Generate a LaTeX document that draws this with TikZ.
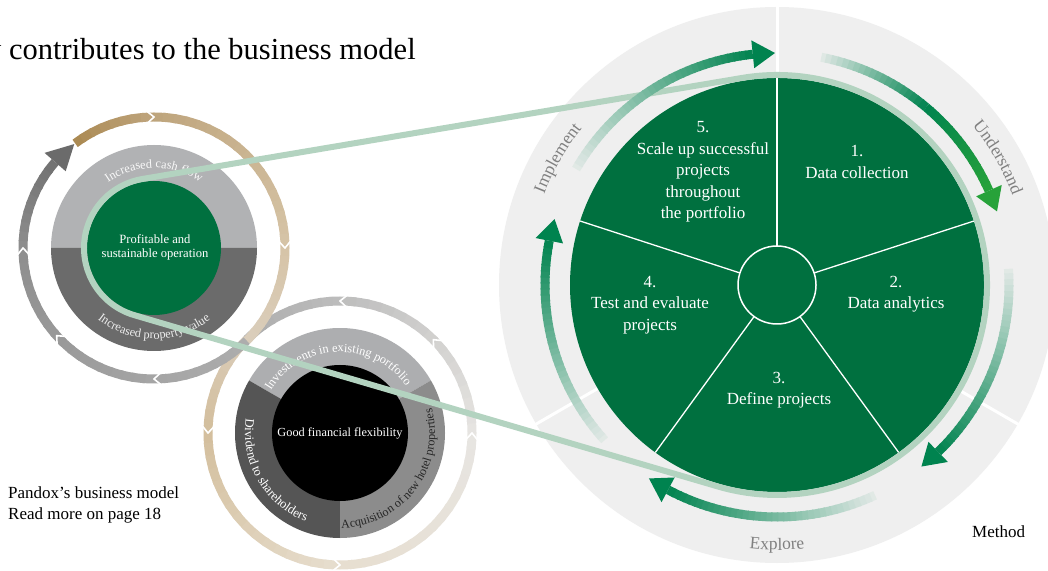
\documentclass[tikz,border=0pt]{standalone}
\usepackage{fontspec}
\setmainfont{Liberation Serif}
\usetikzlibrary{decorations.text,calc}

\definecolor{bggray}{HTML}{EFEFEF}
\definecolor{dgreen}{HTML}{00703F}
\definecolor{agreen}{HTML}{00834F}
\definecolor{bgreen}{HTML}{27A23A}
\definecolor{beltc}{HTML}{B3D3C0}
\definecolor{lgray}{HTML}{B1B2B4}
\definecolor{mgray}{HTML}{6B6B6B}
\definecolor{mlight}{HTML}{ADAEB0}
\definecolor{mdark}{HTML}{555555}
\definecolor{mmid}{HTML}{8C8C8C}
\definecolor{gold1}{HTML}{AA8850}
\definecolor{gold2}{HTML}{BEA47C}
\definecolor{tan1}{HTML}{D6C4A7}
\definecolor{tan2}{HTML}{DACDBB}
\definecolor{tan3}{HTML}{D3BE9C}
\definecolor{cream}{HTML}{E7DECF}
\definecolor{pale}{HTML}{E7E5E2}
\definecolor{gA}{HTML}{BDBDBD}
\definecolor{gB}{HTML}{ADADAD}
\definecolor{gC}{HTML}{A5A5A5}
\definecolor{gD}{HTML}{8E8E8E}
\definecolor{gE}{HTML}{727272}
\definecolor{headgray}{HTML}{6B6B6B}
\definecolor{labgray}{HTML}{808080}
\colorlet{afade}{agreen!5!bggray}

% #1 radius, #2 width, #3 start angle, #4 end angle, #5 start colour, #6 end colour, #7 steps
\newcommand{\gradarc}[7]{%
  \foreach \gi in {1,...,#7}{%
    \pgfmathsetmacro{\gsa}{#3+(#4-#3)*max(\gi-1.25,0)/#7}%
    \pgfmathsetmacro{\gea}{#3+(#4-#3)*\gi/#7}%
    \pgfmathtruncatemacro{\gpc}{100*(\gi-0.5)/#7}%
    \draw[line width=#2pt, color=#6!\gpc!#5] (\gsa:#1pt) arc[start angle=\gsa, end angle=\gea, radius=#1pt];%
  }}

\begin{document}
\begin{tikzpicture}[x=1pt,y=1pt,
  lbl/.style={text=white, align=center, font=\fontsize{17}{21.5}\selectfont, inner sep=0pt},
  plaintext/.style={text=black, anchor=base west, inner sep=0pt, font=\fontsize{17}{20}\selectfont},
  chev/.style={white, line width=1.6pt}]
\useasboundingbox (0,0) rectangle (1048,570);
\fill[white] (0,0) rectangle (1048,570);

\coordinate (B) at (777,285);
\coordinate (L) at (154,322);
\coordinate (M) at (340,137);

% ---------------- big method circle
\begin{scope}[shift={(B)}]
  \fill[bggray] (0,0) circle (278pt);
  \foreach \a in {90,-30,210} \draw[white, line width=3pt] (\a:205pt) -- (\a:282pt);
  \fill[dgreen] (0,0) circle (207pt);
  \foreach \a in {90,18,-54,-126,162} \draw[white, line width=1.3pt] (\a:39pt) -- (\a:207pt);
  \draw[white, line width=1.5pt] (0,0) circle (39pt);
\end{scope}

\node[lbl] (t1) at (857,408) {1.\\Data collection};
\node[lbl] (t2) at (896,276) {2.\\Data analytics};
\node[lbl] (t3) at (779,180) {3.\\Define projects};
\node[lbl] (t4) at (650,265) {4.\\Test and evaluate\\projects};
\node[lbl] (t5) at (703,398) {5.\\Scale up successful\\projects\\throughout\\the portfolio};

% ---------------- middle circle
\begin{scope}[shift={(M)}]
  \gradarc{132}{9}{135}{180}{tan2}{tan3}{10}
  \gradarc{132}{9}{180}{270}{tan3}{cream}{16}
  \gradarc{132}{9}{270}{360}{cream}{pale}{16}
  \gradarc{132}{9}{360}{450}{pale}{gA}{16}
  \gradarc{132}{9}{450}{495}{gA}{gB}{10}
  \foreach \a in {90,45,0,-90,180}
    \draw[chev] ({\a-3}:138pt) -- (\a:132pt) -- ({\a-3}:126pt);
  \fill[mlight] (0,0) -- (30:105pt) arc[start angle=30, end angle=150, radius=105pt] -- cycle;
  \fill[mdark] (0,0) -- (150:105pt) arc[start angle=150, end angle=270, radius=105pt] -- cycle;
  \fill[mmid] (0,0) -- (270:105pt) arc[start angle=270, end angle=390, radius=105pt] -- cycle;
  \fill[black] (0,0) circle (68pt);
  \path[decorate, decoration={text along path, text align=center, text color=white,
     text={|\fontsize{12.3}{13}\selectfont|Investments in existing portfolio}}]
     (177:81pt) arc[start angle=177, end angle=7, radius=81pt];
  \path[decorate, decoration={text along path, text align=center, text color=white,
     text={|\fontsize{12.8}{13}\selectfont|Dividend to shareholders}}]
     (140:95pt) arc[start angle=140, end angle=280, radius=95pt];
  \path[decorate, decoration={text along path, text align=center, text color=black!85,
     text={|\fontsize{12.2}{13}\selectfont|Acquisition of new hotel properties}}]
     (-117:95pt) arc[start angle=-117, end angle=43, radius=95pt];
\end{scope}
\node[text=white, font=\fontsize{12.3}{14}\selectfont, inner sep=0pt] (gff) at (M) {Good financial flexibility};

% ---------------- left circle
\begin{scope}[shift={(L)}]
  \gradarc{131}{9}{127}{90}{gold1}{gold2}{8}
  \gradarc{131}{9}{90}{0}{gold2}{tan1}{18}
  \gradarc{131}{9}{0}{-45}{tan1}{tan2}{10}
  \gradarc{131}{9}{-45}{-90}{gB}{gC}{10}
  \gradarc{131}{9}{-90}{-180}{gC}{gD}{18}
  \gradarc{131}{9}{-180}{-221}{gD}{gE}{10}
  \fill[headgray] (139:117pt) -- (127.5:131pt) -- (139:145pt) -- cycle;
  \foreach \a in {90,0,-90,-138,180}
    \draw[chev] ({\a+3}:137pt) -- (\a:131pt) -- ({\a+3}:125pt);
  \fill[lgray] (103pt,0pt) arc[start angle=0, end angle=180, radius=103pt] -- cycle;
  \fill[mgray] (-103pt,0pt) arc[start angle=180, end angle=360, radius=103pt] -- cycle;
  \fill[dgreen] (0,0) circle (67pt);
  \path[decorate, decoration={text along path, text align=center, text color=white!92!lgray,
     text={|\fontsize{12.3}{13}\selectfont|Increased cash flow}}]
     (165:80pt) arc[start angle=165, end angle=15, radius=80pt];
  \path[decorate, decoration={text along path, text align=center, text color=white!88!mgray,
     text={|\fontsize{12.3}{13}\selectfont|Increased property value}}]
     (195:91pt) arc[start angle=195, end angle=345, radius=91pt];
\end{scope}
\node[text=white, align=center, font=\fontsize{12.6}{14}\selectfont, inner sep=0pt] (pso) at (155,323) {Profitable and\\sustainable operation};

% ---------------- belt connecting the circles
\coordinate (Lt) at ($(L)+(99.6:70pt)$);
\coordinate (Bt) at ($(B)+(99.6:210pt)$);
\coordinate (Lb) at ($(L)+(-106.4:70pt)$);
\coordinate (Bb) at ($(B)+(-106.4:210pt)$);
\draw[beltc, line width=6pt, line join=round]
  (Lt) -- (Bt) arc[start angle=99.6, end angle=-106.4, radius=210pt]
  -- (Lb) arc[start angle=253.6, end angle=99.6, radius=70pt] -- cycle;

% ---------------- green arrows around the method
\begin{scope}[shift={(B)}]
  \gradarc{232}{9}{150}{96}{afade}{agreen}{36}
  \fill[agreen] (96:218pt) -- (90.5:232pt) -- (96:246pt) -- cycle;
  \gradarc{232}{9}{79}{50}{afade}{agreen}{20}
  \gradarc{232}{9}{50}{24}{agreen}{bgreen}{16}
  \fill[bgreen] (24:218pt) -- (18.5:232pt) -- (24:246pt) -- cycle;
  \gradarc{232}{9}{4}{-46}{afade}{agreen}{34}
  \fill[agreen] (-46:218pt) -- (-51.5:232pt) -- (-46:246pt) -- cycle;
  \gradarc{232}{9}{-65}{-118}{afade}{agreen}{36}
  \fill[agreen] (-118:218pt) -- (-123.5:232pt) -- (-118:246pt) -- cycle;
  \gradarc{232}{9}{-138}{-191}{afade}{agreen}{36}
  \fill[agreen] (-191:218pt) -- (-196.5:232pt) -- (-191:246pt) -- cycle;
  \path[decorate, decoration={text along path, text align=center, text color=labgray,
     text={|\fontsize{17.5}{18}\selectfont|Implement}}]
     (180:250pt) arc[start angle=180, end angle=120, radius=250pt];
  \path[decorate, decoration={text along path, text align=center, text color=labgray,
     text={|\fontsize{17.5}{18}\selectfont|Understand}}]
     (60:252pt) arc[start angle=60, end angle=0, radius=252pt];
  \path[decorate, decoration={text along path, text align=center, text color=labgray,
     text={|\fontsize{17.5}{18}\selectfont|Explore}}]
     (250:265pt) arc[start angle=250, end angle=290, radius=265pt];
\end{scope}

% ---------------- plain texts
\node[plaintext, font=\fontsize{30.5}{33}\selectfont] (title) at (-14,510) {y contributes to the business model};
\node[plaintext] (bm1) at (8,72) {Pandox’s business model};
\node[plaintext] (bm2) at (8,51) {Read more on page 18};
\node[plaintext] (meth) at (972,33) {Method};
\end{tikzpicture}
\end{document}
